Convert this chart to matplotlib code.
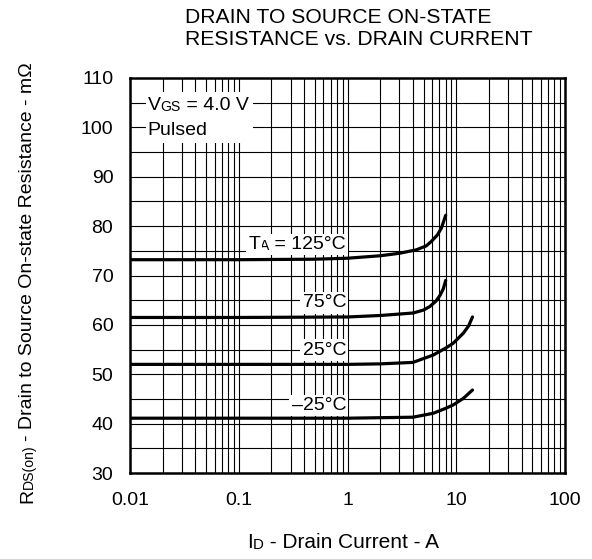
import matplotlib
matplotlib.use('Agg')
import matplotlib.pyplot as plt
from matplotlib.patches import Rectangle
from matplotlib.ticker import NullFormatter

plt.rcParams['font.family'] = ['Liberation Sans', 'DejaVu Sans']

# ---------------- data ----------------
x_ticks = [0.01, 0.1, 1, 10, 100]
x_tick_labels = ['0.01', '0.1', '1', '10', '100']
y_ticks = [30, 40, 50, 60, 70, 80, 90, 100, 110]

I_125 = [0.01, 0.1, 0.5, 1.0, 2.0, 3.0, 4.3, 5.3, 5.9, 6.7, 7.3, 8.0]
R_125 = [73.2, 73.2, 73.3, 73.5, 74.0, 74.5, 75.2, 76.0, 76.9, 78.2, 79.6, 82.2]

I_75 = [0.01, 0.1, 1.0, 2.0, 4.0, 5.0, 5.7, 6.5, 7.1, 7.6, 8.0]
R_75 = [61.5, 61.5, 61.6, 61.9, 62.4, 63.0, 63.7, 64.8, 66.0, 67.3, 69.0]

I_25 = [0.01, 0.1, 1.0, 2.0, 4.0, 6.15, 8.0, 9.4, 11.6, 13.0, 14.1]
R_25 = [52.0, 52.0, 52.0, 52.1, 52.4, 53.9, 55.3, 56.3, 58.3, 59.8, 61.6]

I_m25 = [0.01, 0.1, 1.0, 2.0, 4.0, 6.15, 8.0, 9.4, 11.6, 14.1]
R_m25 = [41.1, 41.1, 41.1, 41.2, 41.3, 42.1, 43.1, 43.8, 45.1, 46.8]

curves = [(I_125, R_125), (I_75, R_75), (I_25, R_25), (I_m25, R_m25)]

# label texts: list of (text, small?) pieces, and y position
temp_labels = [
    ([('T', False), ('A', True), (' = 125°C', False)], 76.8),
    ([('75°C', False)], 65.0),
    ([('25°C', False)], 55.4),
    ([('–25°C', False)], 44.2),
]
cond_line1 = [('V', False), ('GS', True), (' = 4.0 V', False)]
cond_line2 = [('Pulsed', False)]
title_text = 'DRAIN TO SOURCE ON-STATE\nRESISTANCE vs. DRAIN CURRENT'
xlabel_parts = [('I', False), ('D', True), (' - Drain Current - A', False)]
ylabel_parts = [('R', False), ('DS(on)', True), ('- Drain to Source On-state Resistance - mΩ', False)]

# ---------------- figure ----------------
W, H = 592, 559
FS = 14
SMALL = 0.72
fig = plt.figure(figsize=(W / 100, H / 100), dpi=100)
ax = fig.add_axes([130 / W, (H - 473) / H, 435 / W, 395 / H])
ax.set_xscale('log')
ax.set_xlim(0.01, 100)
ax.set_ylim(30, 110)
ax.set_xticks(x_ticks)
ax.set_xticklabels(x_tick_labels)
ax.set_xticks([k * 10.0 ** e for e in range(-2, 2) for k in range(2, 10)], minor=True)
ax.xaxis.set_minor_formatter(NullFormatter())
ax.set_yticks(y_ticks)
ax.set_yticks([y + 5 for y in y_ticks[:-1]], minor=True)
ax.grid(which='both', color='black', lw=0.8)
ax.tick_params(which='both', length=0, labelsize=FS)
ax.tick_params(axis='x', pad=14)
ax.tick_params(axis='y', pad=12)
for s in ax.spines.values():
    s.set_linewidth(1.8)

for I, R in curves:
    ax.plot(I, R, color='black', lw=2.3, solid_capstyle='round', zorder=3)

box = dict(boxstyle='square,pad=0.12', fc='white', ec='none')


def chain_right(parts, x, y, xycoords, size=FS, bbox=None):
    """Draw pieces right-to-left, last piece right-aligned at (x,y)."""
    prev = None
    for txt, small in reversed(parts):
        fs = size * SMALL if small else size
        if prev is None:
            prev = ax.annotate(txt, xy=(x, y), xycoords=xycoords, ha='right', va='baseline',
                               fontsize=fs, bbox=bbox, zorder=4, annotation_clip=False)
        else:
            prev = ax.annotate(txt, xy=(0, 0), xycoords=prev, ha='right', va='bottom',
                               fontsize=fs, bbox=bbox, zorder=4, annotation_clip=False)


def chain_left(parts, x, y, xycoords, size=FS, bbox=None):
    prev = None
    for txt, small in parts:
        fs = size * SMALL if small else size
        if prev is None:
            prev = ax.annotate(txt, xy=(x, y), xycoords=xycoords, ha='left', va='baseline',
                               fontsize=fs, bbox=bbox, zorder=4, annotation_clip=False)
        else:
            prev = ax.annotate(txt, xy=(1, 0), xycoords=prev, ha='left', va='bottom',
                               fontsize=fs, bbox=bbox, zorder=4, annotation_clip=False)


for parts, yv in temp_labels:
    chain_right(parts, 0.97, yv - 1.45, 'data', bbox=box)

# condition box
ax.add_patch(Rectangle((0.0140, 96.9), 0.134 - 0.0140, 107.1 - 96.9, fc='white', ec='none', zorder=2.6))
chain_left(cond_line1, 0.0145, 105 - 1.45, 'data')
chain_left(cond_line2, 0.0145, 100 - 1.45, 'data')

# title
fig.text(185 / W, 1 - 8 / H, title_text, ha='left', va='top', fontsize=15.2, linespacing=1.2)

# x label
chain_left(xlabel_parts, 247, H - 548, 'figure pixels', size=15)

# y label: measure horizontal widths, then place rotated pieces end to end
renderer = fig.canvas.get_renderer()
base_x = 32   # baseline position in pixels
pos_y = H - 503  # start (bottom) in pixels from figure bottom
gaps = [0, 0, 3]
for (txt, small), g in zip(ylabel_parts, gaps):
    fs = FS * SMALL if small else FS
    tmp = fig.text(0, 0, txt, fontsize=fs)
    w = tmp.get_window_extent(renderer).width
    tmp.remove()
    pos_y += g
    shift = 1.0 if small else 0.0
    fig.text((base_x + shift) / W, pos_y / H, txt, fontsize=fs, rotation=90,
             rotation_mode='anchor', ha='left', va='baseline')
    pos_y += w

fig.savefig('out.png', dpi=100)
